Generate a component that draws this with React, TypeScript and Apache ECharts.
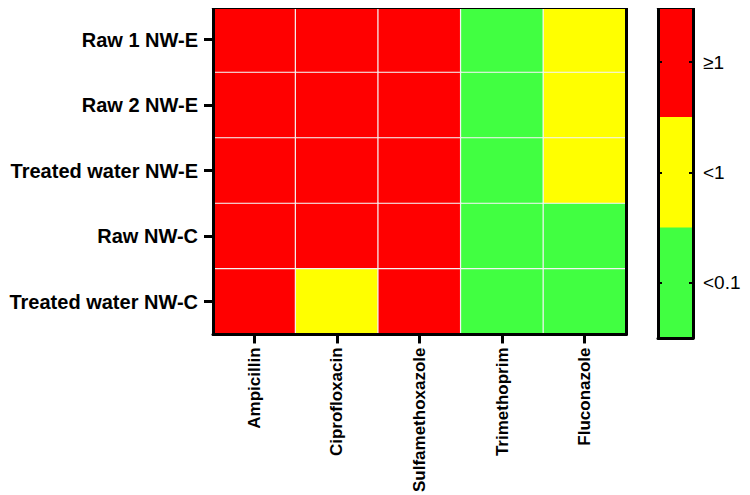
import React, { useEffect, useRef } from "react";
import * as echarts from "echarts";

// Rows (top to bottom) and columns
const samples = ["Raw 1 NW-E", "Raw 2 NW-E", "Treated water NW-E", "Raw NW-C", "Treated water NW-C"];
const drugs = ["Ampicillin", "Ciprofloxacin", "Sulfamethoxazole", "Trimethoprim", "Fluconazole"];
// Level codes: 2 = ≥1, 1 = <1, 0 = <0.1
const levelLabels = ["≥1", "<1", "<0.1"];
const levelCodes = [2, 1, 0];
const raw1NWE = [2, 2, 2, 0, 1];
const raw2NWE = [2, 2, 2, 0, 1];
const treatedNWE = [2, 2, 2, 0, 1];
const rawNWC = [2, 2, 2, 0, 0];
const treatedNWC = [2, 1, 2, 0, 0];
const matrix = [raw1NWE, raw2NWE, treatedNWE, rawNWC, treatedNWC];

const RED = "#ff0000";
const YELLOW = "#ffff00";
const GREEN = "#41ff41";
const FONT = "'Liberation Sans', Arial, sans-serif";

export default function App() {
  const ref = useRef<HTMLDivElement>(null);
  useEffect(() => {
    if (!ref.current) return;
    const chart = echarts.init(ref.current, null, { renderer: "svg" });
    const heatData: number[][] = [];
    matrix.forEach((row, r) => row.forEach((v, c) => heatData.push([c, r, v])));
    const legendData = levelCodes.map((v, i) => [0, i, v]);
    const line = { show: true, lineStyle: { color: "#000", width: 3 } };
    const hidden = { show: false };
    chart.setOption({
      animation: false,
      backgroundColor: "#fff",
      grid: [
        { left: 213, top: 7, width: 413, height: 331 },
        { left: 658, top: 7, width: 35, height: 331 },
      ],
      visualMap: {
        type: "piecewise",
        show: false,
        dimension: 2,
        seriesIndex: [0, 1],
        pieces: [
          { value: 2, color: RED },
          { value: 1, color: YELLOW },
          { value: 0, color: GREEN },
        ],
      },
      xAxis: [
        {
          type: "category", gridIndex: 0, data: drugs, position: "bottom", z: 5,
          axisLine: line,
          axisTick: { show: true, alignWithLabel: true, length: 9, lineStyle: { color: "#000", width: 3 } },
          axisLabel: { rotate: 90, margin: 13, color: "#000", fontFamily: FONT, fontWeight: "bold", fontSize: 17 },
          splitLine: hidden,
        },
        {
          type: "category", gridIndex: 0, data: drugs, position: "top", z: 5,
          axisLine: line, axisTick: hidden, axisLabel: hidden, splitLine: hidden,
        },
        {
          type: "category", gridIndex: 1, data: [""], position: "bottom", z: 5,
          axisLine: line, axisTick: hidden, axisLabel: hidden, splitLine: hidden,
        },
        {
          type: "category", gridIndex: 1, data: [""], position: "top", z: 5,
          axisLine: line, axisTick: hidden, axisLabel: hidden, splitLine: hidden,
        },
      ],
      yAxis: [
        {
          type: "category", gridIndex: 0, data: samples, inverse: true, position: "left", z: 5,
          axisLine: line,
          axisTick: { show: true, alignWithLabel: true, length: 9, lineStyle: { color: "#000", width: 3 } },
          axisLabel: { margin: 15, color: "#000", fontFamily: FONT, fontWeight: "bold", fontSize: 20 },
          splitLine: hidden,
        },
        {
          type: "category", gridIndex: 0, data: samples, inverse: true, position: "right", z: 5,
          axisLine: line, axisTick: hidden, axisLabel: hidden, splitLine: hidden,
        },
        {
          type: "category", gridIndex: 1, data: levelLabels, inverse: true, position: "left", z: 5,
          axisLine: line,
          axisTick: { show: true, inside: true, alignWithLabel: true, length: 4, lineStyle: { color: "#000", width: 2 } },
          axisLabel: hidden, splitLine: hidden,
        },
        {
          type: "category", gridIndex: 1, data: levelLabels, inverse: true, position: "right", z: 5,
          axisLine: line,
          axisTick: { show: true, inside: true, alignWithLabel: true, length: 4, lineStyle: { color: "#000", width: 2 } },
          axisLabel: { margin: 10, color: "#000", fontFamily: FONT, fontSize: 19 },
          splitLine: hidden,
        },
      ],
      series: [
        {
          type: "heatmap", xAxisIndex: 0, yAxisIndex: 0, data: heatData,
          itemStyle: { borderColor: "#f4f4f4", borderWidth: 1.2 },
          emphasis: { disabled: true },
        },
        {
          type: "heatmap", xAxisIndex: 2, yAxisIndex: 2, data: legendData,
          emphasis: { disabled: true },
        },
      ],
    });
    return () => chart.dispose();
  }, []);
  return <div ref={ref} style={{ width: 750, height: 495, marginLeft: -8, marginTop: -8 }} />;
}
